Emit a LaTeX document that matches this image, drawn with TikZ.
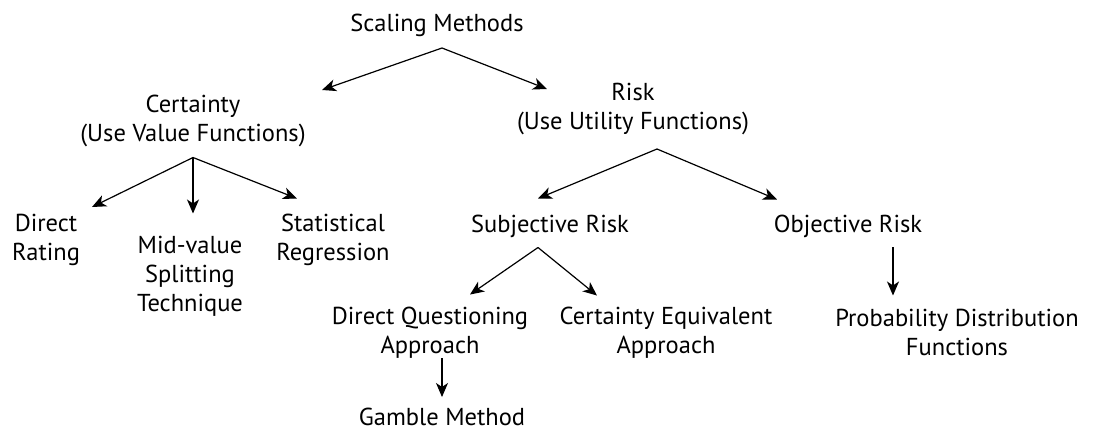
\documentclass[tikz,border=0pt]{standalone}
\usepackage{fontspec}
\setmainfont{PT Sans}
\usetikzlibrary{arrows.meta}
\tikzset{
  lbl/.style={align=center, inner sep=0pt, anchor=base, font=\fontsize{24.5}{29}\selectfont},
  arr/.style={line width=1.2pt, -{Stealth[length=14pt,width=12pt,inset=4pt]}}
}
\begin{document}
\begin{tikzpicture}[x=1pt,y=-1pt]
\useasboundingbox[fill=white] (0,0) rectangle (1096,432);
% nodes (anchored at the baseline of their last line)
\node[lbl] (scal) at (437,31.7) {Scaling Methods};
\node[lbl] (cert) at (193,141) {Certainty\\(Use Value Functions)};
\node[lbl] (risk) at (633,129.5) {Risk\\(Use Utility Functions)};
\node[lbl] (dr) at (46,260) {Direct\\Rating};
\node[lbl] (mv) at (190,311) {Mid-value\\Splitting\\Technique};
\node[lbl] (sr) at (333,260) {Statistical\\Regression};
\node[lbl] (subj) at (550,232.7) {Subjective Risk};
\node[lbl] (obj) at (848,232.7) {Objective Risk};
\node[lbl] (dq) at (430,353) {Direct Questioning\\Approach};
\node[lbl] (ce) at (666,353) {Certainty Equivalent\\Approach};
\node[lbl] (pd) at (957,355) {Probability Distribution\\Functions};
\node[lbl] (gm) at (442,425.5) {Gamble Method};
% connector coordinates
\coordinate (a0) at (442,48);
\coordinate (t0l) at (322,90);
\coordinate (t0r) at (547,89);
\coordinate (a1) at (193,157.5);
\coordinate (t1l) at (92,207);
\coordinate (t1m) at (193,213.5);
\coordinate (t1r) at (297,198.5);
\coordinate (a2) at (657,149);
\coordinate (t2l) at (538,198.5);
\coordinate (t2r) at (777,199.5);
\coordinate (a3) at (538,247.5);
\coordinate (t3l) at (470,294.5);
\coordinate (t3r) at (597,295.5);
\coordinate (a4) at (442,358);
\coordinate (t4) at (442,397);
\coordinate (a5) at (893,247);
\coordinate (t5) at (893,295.5);
% connectors
\draw[arr] (a0) -- (t0l);
\draw[arr] (a0) -- (t0r);
\draw[arr] (a1) -- (t1l);
\draw[arr] (a1) -- (t1m);
\draw[arr] (a1) -- (t1r);
\draw[arr] (a2) -- (t2l);
\draw[arr] (a2) -- (t2r);
\draw[arr] (a3) -- (t3l);
\draw[arr] (a3) -- (t3r);
\draw[arr] (a4) -- (t4);
\draw[arr] (a5) -- (t5);
\end{tikzpicture}
\end{document}
